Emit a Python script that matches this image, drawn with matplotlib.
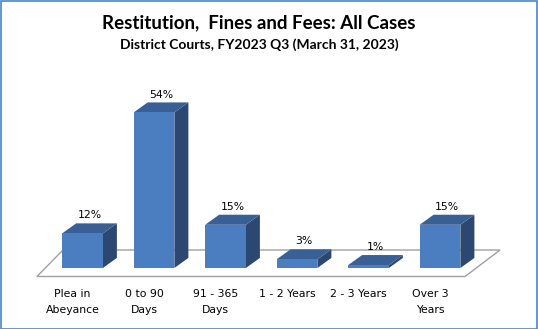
import matplotlib
matplotlib.use("Agg")
import matplotlib.pyplot as plt
from matplotlib.patches import Polygon, Rectangle

# datos del grafico
categorias = ["Plea in\nAbeyance", "0 to 90\nDays", "91 - 365\nDays",
              "1 - 2 Years", "2 - 3 Years", "Over 3\nYears"]
valores = [12, 54, 15, 3, 1, 15]
etiquetas = ["12%", "54%", "15%", "3%", "1%", "15%"]

titulo = "Restitution,  Fines and Fees: All Cases"
subtitulo = "District Courts, FY2023 Q3 (March 31, 2023)"

# colores estilo Excel
c_frente = "#4A7EC0"
c_arriba = "#3A5F95"
c_lado = "#2C4872"

fig = plt.figure(figsize=(5.38, 3.29), dpi=100)
ax = fig.add_axes([0, 0, 1, 1])
ax.set_xlim(-1.1538, 6.3706)
ax.set_ylim(-21.18, 93.06)
ax.axis("off")

ancho = 0.57   # ancho de barra (en categorias)
dx = 0.196     # profundidad de la barra en x
dy = 3.5       # profundidad de la barra en y (%)

# piso en perspectiva
piso = Polygon([(-0.637, -2.95), (5.35, -2.95), (5.84, 6.25), (-0.273, 6.25)],
               closed=True, facecolor="white", edgecolor="#A0A0A0", lw=1, zorder=1)
ax.add_patch(piso)

for i, v in enumerate(valores):
    x0 = i - ancho / 2
    x1 = i + ancho / 2
    # cara lateral
    ax.add_patch(Polygon([(x1, 0), (x1 + dx, dy), (x1 + dx, v + dy), (x1, v)],
                         closed=True, facecolor=c_lado, edgecolor="none", zorder=2))
    # cara superior
    ax.add_patch(Polygon([(x0, v), (x1, v), (x1 + dx, v + dy), (x0 + dx, v + dy)],
                         closed=True, facecolor=c_arriba, edgecolor="none", zorder=2))
    # cara frontal
    ax.add_patch(Rectangle((x0, 0), ancho, v, facecolor=c_frente,
                           edgecolor="none", zorder=3))
    # etiqueta del valor
    ax.text(i + dx / 2, v + dy + 1.0, etiquetas[i], ha="center", va="bottom",
            fontsize=7.8, family="DejaVu Sans", color="black")
    # etiqueta de categoria
    ax.text(i - 0.14, -7.4, categorias[i], ha="center", va="top",
            fontsize=7.8, family="DejaVu Sans", color="black", linespacing=1.7)

fig.text(259 / 538, 1 - 23 / 329, titulo, ha="center", va="center",
         fontsize=13.5, fontweight="bold", family="Lato")
fig.text(259 / 538, 1 - 45 / 329, subtitulo, ha="center", va="center",
         fontsize=10, fontweight="bold", family="Lato")

# borde azul del grafico
fig.patches.append(Rectangle((0.5 / 538, 0.5 / 329), 1 - 1.5 / 538, 1 - 1.5 / 329,
                             transform=fig.transFigure, fill=False,
                             edgecolor="#4A86C8", lw=1.2))

fig.savefig("out.png", dpi=100)
